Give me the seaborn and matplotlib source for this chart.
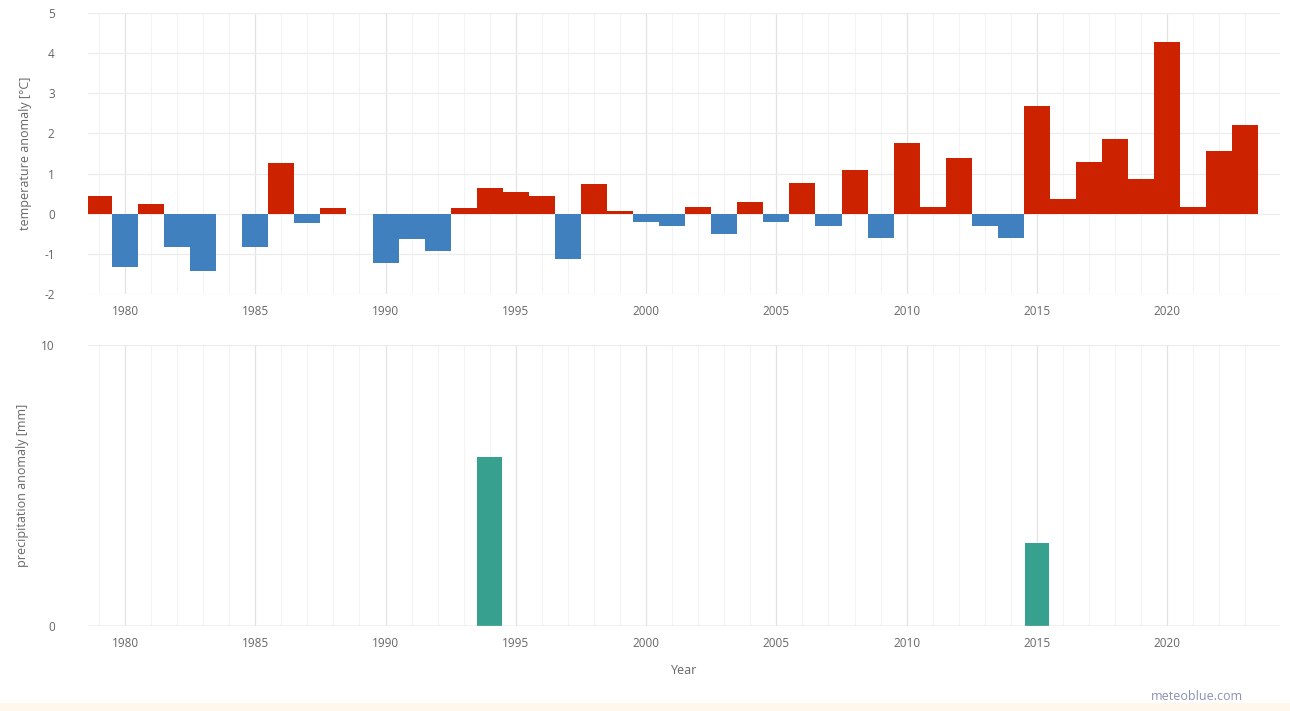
import matplotlib
matplotlib.use("Agg")
import matplotlib.pyplot as plt
import seaborn as sns
import pandas as pd
import numpy as np
from matplotlib.patches import Rectangle

years = list(range(1979, 2024))
temp_anomaly = [0.45, -1.32, 0.25, -0.82, -1.42, 0.0, -0.82, 1.27, -0.22, 0.15,
                0.0, -1.22, -0.63, -0.92, 0.15, 0.65, 0.54, 0.45, -1.13, 0.75,
                0.06, -0.2, -0.31, 0.17, -0.51, 0.28, -0.2, 0.77, -0.31, 1.09,
                -0.6, 1.76, 0.17, 1.38, -0.31, -0.6, 2.68, 0.37, 1.28, 1.86,
                0.87, 4.27, 0.17, 1.57, 2.2]
precip_years = [1994, 2015]
precip_values = [6.0, 2.95]
precip_anomaly = [precip_values[precip_years.index(y)] if y in precip_years else 0.0
                  for y in years]

RED = "#CC2200"
BLUE = "#4180BE"
TEAL = "#38A08F"

sns.set_theme(style="white")
plt.rcParams['font.family'] = ['Open Sans', 'DejaVu Sans']
plt.rcParams['axes.unicode_minus'] = False

W, H = 1290, 711
fig = plt.figure(figsize=(W / 100, H / 100), dpi=100)

def ax_rect(x0, y0, x1, y1):
    return [x0 / W, 1 - y1 / H, (x1 - x0) / W, (y1 - y0) / H]

ax1 = fig.add_axes(ax_rect(88, 13, 1280, 294))
ax2 = fig.add_axes(ax_rect(88, 345, 1280, 626))

df_t = pd.DataFrame({"year": years, "temp": temp_anomaly})
df_t["sign"] = np.where(df_t["temp"] >= 0, "pos", "neg")
df_p = pd.DataFrame({"year": years, "prec": precip_anomaly})

sns.barplot(data=df_t, x="year", y="temp", hue="sign", palette={"pos": RED, "neg": BLUE},
            native_scale=True, width=1.0, dodge=False, legend=False, ax=ax1,
            linewidth=0, saturation=1)
sns.barplot(data=df_p, x="year", y="prec", color=TEAL, native_scale=True, width=0.95,
            ax=ax2, linewidth=0, saturation=1)

xlim = (1978.58, 2024.33)
tick_col = "#666666"
for ax in (ax1, ax2):
    ax.set_xlim(*xlim)
    ax.set_xticks(list(range(1980, 2021, 5)))
    ax.set_xticks(years, minor=True)
    ax.grid(axis="x", which="major", color="#e3e3e3", linewidth=0.9, zorder=0)
    ax.grid(axis="x", which="minor", color="#f3f3f3", linewidth=0.8, zorder=0)
    ax.grid(axis="y", which="major", color="#ececec", linewidth=0.9, zorder=0)
    ax.set_axisbelow(True)
    for s in ax.spines.values():
        s.set_visible(False)
    ax.tick_params(axis="both", which="both", length=0, labelsize=8.5, labelcolor=tick_col)
    ax.tick_params(axis="x", pad=8)
    ax.tick_params(axis="y", pad=24)

ax1.set_ylim(-2, 5)
ax1.set_yticks(range(-2, 6))
ax1.set_xlabel("")
ax1.set_ylabel("temperature anomaly [°C]", fontsize=9, color=tick_col, labelpad=9)

ax2.set_ylim(0, 10)
ax2.set_yticks([0, 10])
ax2.axhline(0, color="#cccccc", linewidth=1.0, zorder=1)
ax2.set_xlabel("Year", fontsize=9, color=tick_col, labelpad=10)
ax2.set_ylabel("precipitation anomaly [mm]", fontsize=9, color=tick_col, labelpad=9)

fig.patches.append(Rectangle((0, 0), 1, 8 / H, transform=fig.transFigure,
                             facecolor="#FFF6EC", edgecolor="none", zorder=0))
fig.text(1197 / W, 1 - 697 / H, "meteoblue.com", ha="center", va="center",
         fontsize=9, color="#8A90B5")

fig.savefig("out.png", dpi=100)
